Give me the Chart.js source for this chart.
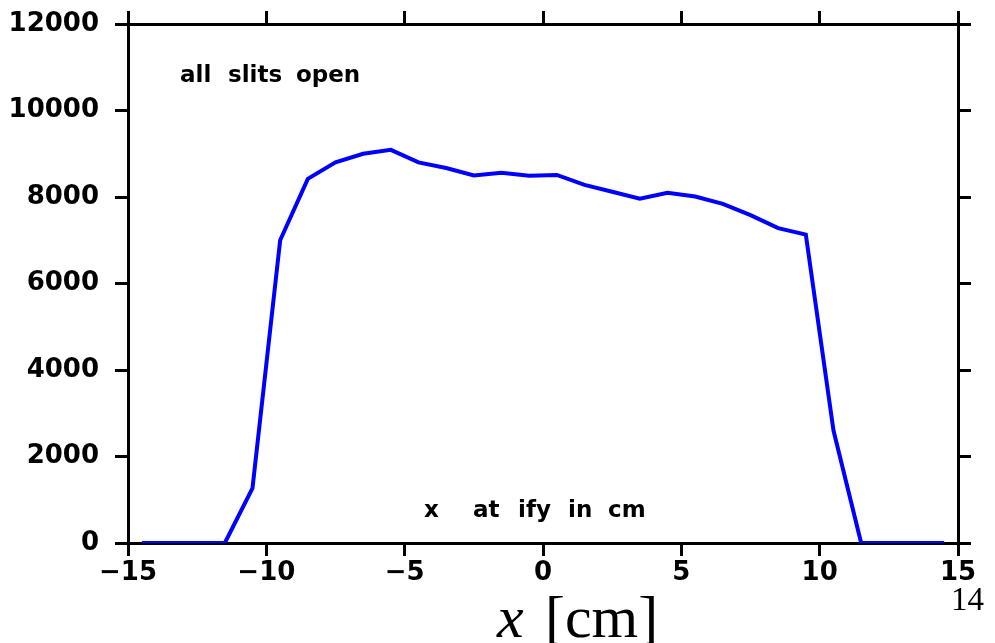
<!DOCTYPE html>
<html>
<head>
<meta charset="utf-8">
<script src="https://cdn.jsdelivr.net/npm/chart.js@4.4.1/dist/chart.umd.min.js"></script>
<style>
  html, body { margin: 0; padding: 0; background: #fff; }
  canvas { display: block; }
</style>
</head>
<body>
<canvas id="myChart" width="995" height="643"></canvas>
<script>
// x position of each slit bin (cm) and counts
var xPositions = [-14.5, -13.5, -12.5, -11.5, -10.5, -9.5, -8.5, -7.5, -6.5, -5.5,
	-4.5, -3.5, -2.5, -1.5, -0.5, 0.5, 1.5, 2.5, 3.5, 4.5,
	5.5, 6.5, 7.5, 8.5, 9.5, 10.5, 11.5, 12.5, 13.5, 14.5];
var counts = [0, 0, 0, 0, 1270, 7000, 8420, 8800, 9000, 9090,
	8800, 8670, 8500, 8560, 8490, 8510, 8280, 8120, 7960, 8100,
	8010, 7840, 7580, 7280, 7130, 2600, 0, 0, 0, 0];
var xTicks = [-15, -10, -5, 0, 5, 10, 15];
var yTicks = [0, 2000, 4000, 6000, 8000, 10000, 12000];

var tickFont = { family: 'DejaVu Sans', size: 26, weight: 'bold' };

var points = [];
for (var i = 0; i < xPositions.length; i++) {
	points.push({ x: xPositions[i], y: counts[i] });
}

// fixed box size for each axis, no extra label overflow padding
function fixSize(w, h) {
	return function (s) {
		if (w !== null) s.width = w;
		if (h !== null) s.height = h;
		s.paddingTop = 0; s.paddingBottom = 0;
		s.paddingLeft = 0; s.paddingRight = 0;
	};
}

function axisLook(extra) {
	var base = {
		type: 'linear',
		border: { display: true, color: '#000', width: 3 },
		grid: { drawOnChartArea: false, color: '#000', lineWidth: 3, tickLength: 13 }
	};
	return Object.assign(base, extra);
}

var textPlugin = {
	id: 'texts',
	afterDraw: function (chart) {
		var ctx = chart.ctx;
		ctx.save();
		ctx.fillStyle = '#000';
		ctx.textBaseline = 'alphabetic';
		ctx.textAlign = 'left';
		ctx.font = 'bold 23px "DejaVu Sans"';
		ctx.fillText('all', 180, 82);
		ctx.fillText('slits', 228, 82);
		ctx.fillText('open', 296, 82);
		ctx.fillText('x', 424, 517);
		ctx.fillText('at', 473, 517);
		ctx.fillText('ify', 518, 517);
		ctx.fillText('in', 568, 517);
		ctx.fillText('cm', 608, 517);
		// axis title
		ctx.font = 'italic 60px "Liberation Serif"';
		ctx.fillText('x', 497, 637);
		ctx.font = '60px "Liberation Serif"';
		ctx.fillText('[cm]', 545, 637);
		ctx.font = '33px "Liberation Serif"';
		ctx.fillText('14', 951, 610);
		ctx.restore();
	}
};

var ctx = document.getElementById('myChart').getContext('2d');
var myChart = new Chart(ctx, {
	type: 'line',
	data: {
		datasets: [{
			data: points,
			borderColor: '#0000ff',
			borderWidth: 4,
			pointRadius: 0,
			fill: false,
			tension: 0
		}]
	},
	options: {
		responsive: false,
		animation: false,
		devicePixelRatio: 1,
		layout: { padding: 0 },
		plugins: { legend: { display: false }, tooltip: { enabled: false } },
		scales: {
			x: axisLook({
				position: 'bottom', min: -15, max: 15,
				afterBuildTicks: function (s) { s.ticks = xTicks.map(function (v) { return { value: v }; }); },
				afterFit: fixSize(null, 100),
				ticks: {
					color: '#000', font: tickFont, padding: 2, maxRotation: 0,
					callback: function (v) { return String(v).replace('-', '\u2212'); }
				}
			}),
			x2: axisLook({
				position: 'top', min: -15, max: 15,
				afterBuildTicks: function (s) { s.ticks = xTicks.map(function (v) { return { value: v }; }); },
				afterFit: fixSize(null, 24),
				ticks: { display: false }
			}),
			y: axisLook({
				position: 'left', min: 0, max: 12000,
				afterBuildTicks: function (s) { s.ticks = yTicks.map(function (v) { return { value: v }; }); },
				afterFit: fixSize(128, null),
				ticks: {
					color: '#000', font: tickFont, padding: 16,
					callback: function (v) { return String(v); }
				}
			}),
			y2: axisLook({
				position: 'right', min: 0, max: 12000,
				afterBuildTicks: function (s) { s.ticks = yTicks.map(function (v) { return { value: v }; }); },
				afterFit: fixSize(37, null),
				ticks: { display: false }
			})
		}
	},
	plugins: [textPlugin]
});
</script>
</body>
</html>
